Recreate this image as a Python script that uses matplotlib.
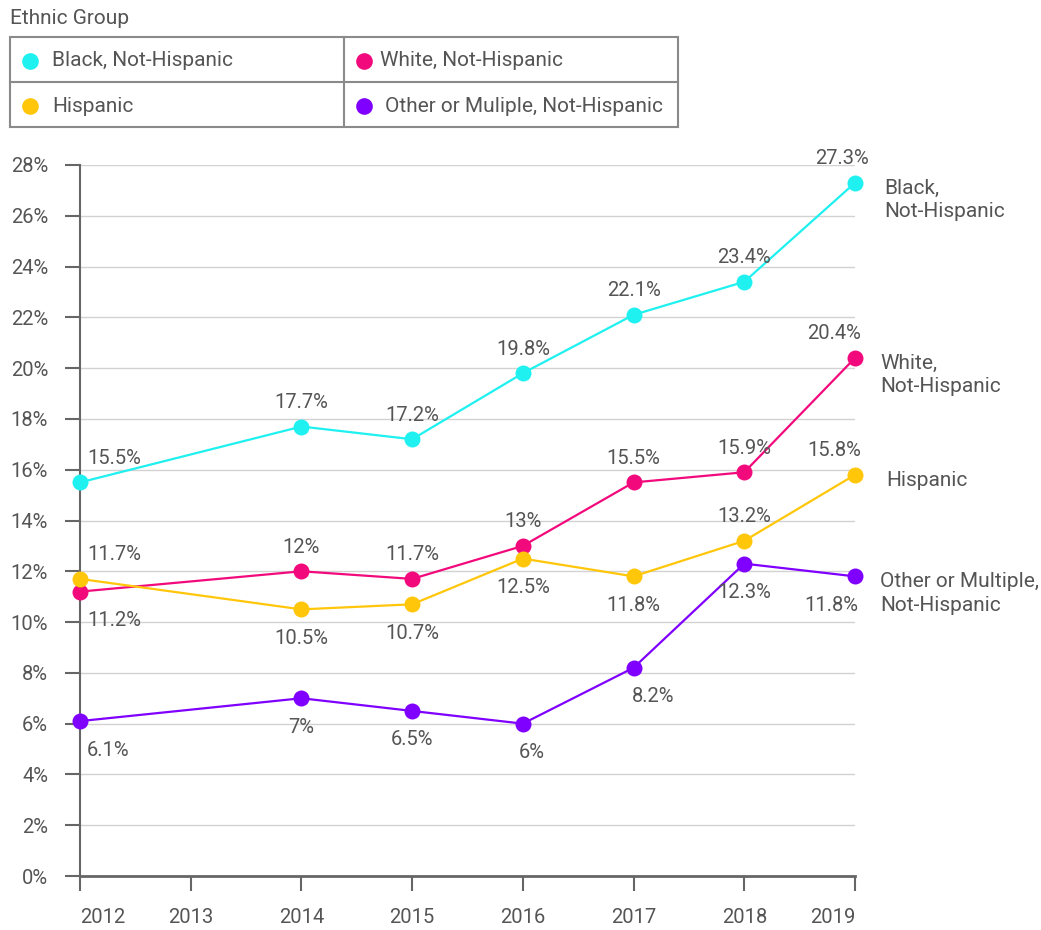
import matplotlib
matplotlib.use("Agg")
import matplotlib.pyplot as plt
from matplotlib.lines import Line2D
from matplotlib.patches import Rectangle

plt.rcParams['font.family'] = ['Roboto', 'DejaVu Sans']

# data
years = [2012, 2014, 2015, 2016, 2017, 2018, 2019]
tick_years = [2012, 2013, 2014, 2015, 2016, 2017, 2018, 2019]
black = [15.5, 17.7, 17.2, 19.8, 22.1, 23.4, 27.3]
white = [11.2, 12, 11.7, 13, 15.5, 15.9, 20.4]
hispanic = [11.7, 10.5, 10.7, 12.5, 11.8, 13.2, 15.8]
other = [6.1, 7, 6.5, 6, 8.2, 12.3, 11.8]

legend_names = ['Black, Not-Hispanic', 'White, Not-Hispanic',
                'Hispanic', 'Other or Muliple, Not-Hispanic']
end_names = ['Black,\nNot-Hispanic', 'White,\nNot-Hispanic',
             'Hispanic', 'Other or Multiple,\nNot-Hispanic']

colors = ['#1ff0f0', '#f20a7c', '#ffc60a', '#8000ff']
TXT = '#555555'

# label placement per point: 'a' above, 'b' below
places = [
    ['a', 'a', 'a', 'a', 'a', 'a', 'a'],
    ['b', 'a', 'a', 'a', 'a', 'a', 'a'],
    ['a', 'b', 'b', 'b', 'b', 'a', 'a'],
    ['b', 'b', 'b', 'b', 'b', 'b', 'b'],
]
# extra horizontal nudges in px
nudges = [
    [0, 0, 0, 0, 0, 0, 8],
    [0, 0, 0, 0, 0, 0, 0],
    [0, 0, 0, 0, 0, 0, 0],
    [0, 0, 0, 9, 20, 0, -3],
]
end_dx = [29, 25, 31, 25]

W, H = 1041, 930
PT = 0.72  # points per pixel at 100 dpi
FS = 14.5

fig = plt.figure(figsize=(W / 100, H / 100), dpi=100)
ax = fig.add_axes([80 / W, 54 / H, 775 / W, 711 / H])

series = [black, white, hispanic, other]
for vals, col, pl, nd, name, edx in zip(series, colors, places, nudges, end_names, end_dx):
    ax.plot(years, vals, color=col, lw=1.6, marker='o', ms=11.5,
            markeredgewidth=0, zorder=3, clip_on=False)
    for i, (x, v) in enumerate(zip(years, vals)):
        lab = f'{v:g}%'
        dy = 24 if pl[i] == 'a' else -29
        dx = nd[i]
        ha = 'center'
        if x == years[0]:
            ha, dx = 'left', 7
        elif x == years[-1]:
            ha, dx = 'right', 6 + nd[i]
        ax.annotate(lab, (x, v), xytext=(dx * PT, dy * PT), textcoords='offset points',
                    ha=ha, va='center', fontsize=FS, color=TXT, annotation_clip=False)
    ax.annotate(name, (years[-1], vals[-1]), xytext=(edx * PT, 4 * PT),
                textcoords='offset points', ha='left', va='top', fontsize=15,
                color=TXT, linespacing=1.3, annotation_clip=False)

ax.set_xlim(2012, 2019)
ax.set_ylim(0, 28)
ax.set_yticks(range(0, 29, 2))
ax.set_yticklabels([f'{t}%' for t in range(0, 29, 2)])
ax.set_xticks(tick_years)
ax.set_xticklabels([str(y) for y in tick_years])
xl = ax.get_xticklabels()
xl[0].set_ha('left')
xl[-1].set_ha('right')

ax.grid(axis='y', color='#d2d2d2', lw=1)
ax.set_axisbelow(True)
for s in ['top', 'right']:
    ax.spines[s].set_visible(False)
ax.spines['left'].set_color('#666666')
ax.spines['left'].set_linewidth(1.5)
ax.spines['bottom'].set_color('#666666')
ax.spines['bottom'].set_linewidth(2)
ax.tick_params(axis='both', direction='out', length=11, width=1.5, color='#666666',
               labelcolor=TXT, labelsize=FS)
ax.tick_params(axis='y', pad=12)
ax.tick_params(axis='x', pad=12)


# legend, drawn in pixel coords from the top-left
def fx(x):
    return x / W


def fy(y):
    return 1 - y / H


fig.text(fx(10), fy(18), 'Ethnic Group', ha='left', va='center', fontsize=15, color=TXT)
fig.add_artist(Rectangle((fx(10), fy(127)), fx(678) - fx(10), fy(37) - fy(127),
                         fill=False, edgecolor='#8a8a8a', lw=1.5, transform=fig.transFigure))
fig.add_artist(Line2D([fx(344), fx(344)], [fy(37), fy(127)], color='#8a8a8a', lw=1.5,
                      transform=fig.transFigure))
fig.add_artist(Line2D([fx(10), fx(678)], [fy(82), fy(82)], color='#8a8a8a', lw=1.5,
                      transform=fig.transFigure))
cells = [(30, 61, 52), (364, 61, 380), (30, 106, 52), (364, 106, 385)]
for (mx, my, tx), col, name in zip(cells, colors, legend_names):
    fig.add_artist(Line2D([fx(mx)], [fy(my)], marker='o', ms=12, color=col,
                          markeredgewidth=0, transform=fig.transFigure))
    fig.text(fx(tx), fy(my), name, ha='left', va='center', fontsize=15, color=TXT)

fig.savefig('out.png', dpi=100)
